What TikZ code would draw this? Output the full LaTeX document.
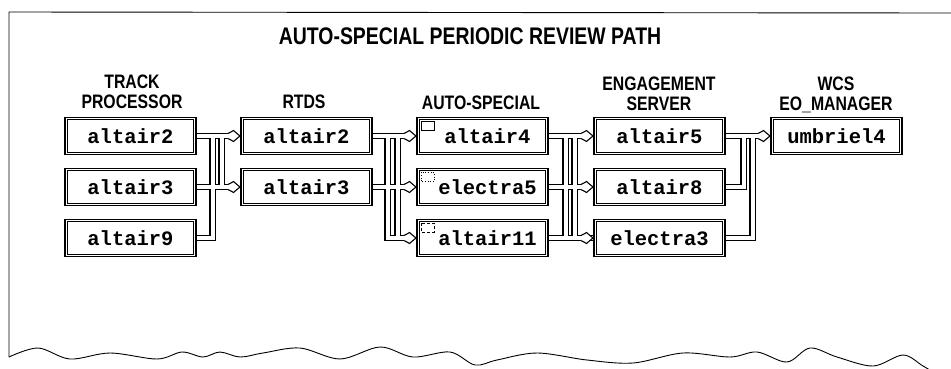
\documentclass[tikz,border=0pt]{standalone}
\usepackage{fontspec}
\newfontfamily\headfont{Liberation Sans}[FakeStretch=0.81]
\newfontfamily\hostfont{Liberation Mono}
\usetikzlibrary{calc,backgrounds}
\begin{document}
\begin{tikzpicture}[x=1pt,y=-1pt,
  titletext/.style={font=\headfont\bfseries\fontsize{24}{26}\selectfont, inner sep=0pt, anchor=base},
  colhead/.style={font=\headfont\bfseries\fontsize{19.5}{21}\selectfont, inner sep=0pt, anchor=base},
  host/.style={draw, fill=white, line width=1.1pt,
    minimum width=131pt, minimum height=37pt, inner sep=0pt,
    font=\hostfont\bfseries\fontsize{20.5}{22}\selectfont},
  hostinner/.style={line width=0.8pt},
  tubeouter/.style={draw=black, line width=6.4pt},
  tubeinner/.style={draw=white, line width=4pt},
  tubeend/.style={shorten >=9pt},
  framestroke/.style={line width=0.9pt, line join=round},
]
\useasboundingbox (0,0) rectangle (951,368);

% page frame: top rule, left rule and torn bottom edge
\draw[framestroke] (951,13) -- (9,12) -- (9,357);
\draw[framestroke] plot[smooth, tension=0.55] coordinates {
  (9,357) (38,348) (70,359) (110,353) (157,359) (182,352) (203,357) (220,352)
  (240,357) (263,353) (300,348) (340,359) (380,347) (413,357) (450,352)
  (475,365) (497,360) (537,353) (587,360) (633,363) (683,353) (730,357)
  (757,352) (787,362) (810,348) (837,357) (873,366) (903,355) (923,366) (940,376)};

% headings
\node[titletext] (title) at (470,44) {AUTO-SPECIAL PERIODIC REVIEW PATH};
\node[colhead] (hTPa) at (132,88) {TRACK};
\node[colhead] (hTPb) at (132,108) {PROCESSOR};
\node[colhead] (hRT) at (304,108) {RTDS};
\node[colhead] (hAS) at (481,109) {AUTO-SPECIAL};
\node[colhead] (hESa) at (659,90) {ENGAGEMENT};
\node[colhead] (hESb) at (659,110) {SERVER};
\node[colhead] (hWCa) at (836,90) {WCS};
\node[colhead] (hWCb) at (836,110) {EO\_MANAGER};

% hosts
\node[host] (tp1) at (130.5,136) {altair2};
\node[host] (tp2) at (130.5,187) {altair3};
\node[host] (tp3) at (130.5,238) {altair9};
\node[host] (rt1) at (306.5,136) {altair2};
\node[host] (rt2) at (306.5,187) {altair3};
\node[host] (as1) at (482.5,136) {\hspace*{10pt}altair4};
\node[host] (as2) at (482.5,187) {\hspace*{10pt}electra5};
\node[host] (as3) at (482.5,238) {\hspace*{10pt}altair11};
\node[host] (es1) at (659.5,136) {altair5};
\node[host] (es2) at (659.5,187) {altair8};
\node[host] (es3) at (659.5,238) {electra3};
\node[host] (wc1) at (836.5,136) {umbriel4};

% inner rule of each double-bordered host box
\foreach \h in {tp1,tp2,tp3,rt1,rt2,as1,as2,as3,es1,es2,es3,wc1}
  \draw[hostinner] ($(\h.north west)+(2.7,2.7)$) rectangle ($(\h.south east)+(-2.7,-2.7)$);

% process markers in the AUTO-SPECIAL hosts
\draw[line width=0.6pt] ($(as1.north west)+(4.5,4.5)$) rectangle ++(13,9);
\draw[line width=0.6pt, dotted] ($(as2.north west)+(4.5,4.5)$) rectangle ++(13,9);
\draw[line width=0.6pt, densely dashed] ($(as3.north west)+(4.5,4.5)$) rectangle ++(13,9);

% hollow tubes between the stages
\newcommand\tubenet[1]{%
  % track processor -> RTDS
  \path[#1, tubeend] (tp1.east) -- (rt1.west);
  \path[#1, tubeend] (tp2.east) -- (rt2.west);
  \path[#1] (tp3.east) -| ($(tp1.east)+(16,0)$);
  \path[#1, tubeend] ($(tp1.east)+(25,0)$) |- (rt2.west);
  % RTDS -> auto-special
  \path[#1, tubeend] (rt1.east) -- (as1.west);
  \path[#1, tubeend] (rt2.east) -- (as2.west);
  \path[#1, tubeend] ($(rt1.east)+(15,0)$) |- (as3.west);
  \path[#1, tubeend] ($(rt1.east)+(25,0)$) |- (as3.west);
  % auto-special -> engagement server
  \path[#1, tubeend] (as1.east) -- (es1.west);
  \path[#1, tubeend] (as2.east) -- (es2.west);
  \path[#1, tubeend] (as3.east) -- (es3.west);
  \path[#1] (as3.east) -| ($(as1.east)+(17,0)$);
  \path[#1] ($(as1.east)+(26,0)$) |- (es3.west);
  % engagement server -> WCS
  \path[#1, tubeend] (es1.east) -- (wc1.west);
  \path[#1] (es2.east) -| ($(es1.east)+(18,0)$);
  \path[#1] (es3.east) -| ($(es1.east)+(27,0)$);
}
\newcommand\tubetip[1]{%
  \begin{scope}[shift={($(#1.west)+(-0.5,0)$)}]
    \path[fill=white, draw=black, line width=1.1pt, line join=miter]
      (-12,-2.6) .. controls (-8.5,-2.6) and (-9,-5.5) .. (-6.5,-5.5) -- (0,0)
      -- (-6.5,5.5) .. controls (-9,5.5) and (-8.5,2.6) .. (-12,2.6);
  \end{scope}}
\begin{pgfonlayer}{background}
  \tubenet{tubeouter}
  \tubenet{tubeinner}
  \tubetip{rt1}\tubetip{rt2}
  \tubetip{as1}\tubetip{as2}\tubetip{as3}
  \tubetip{es1}\tubetip{es2}\tubetip{es3}
  \tubetip{wc1}
\end{pgfonlayer}
\end{tikzpicture}
\end{document}
